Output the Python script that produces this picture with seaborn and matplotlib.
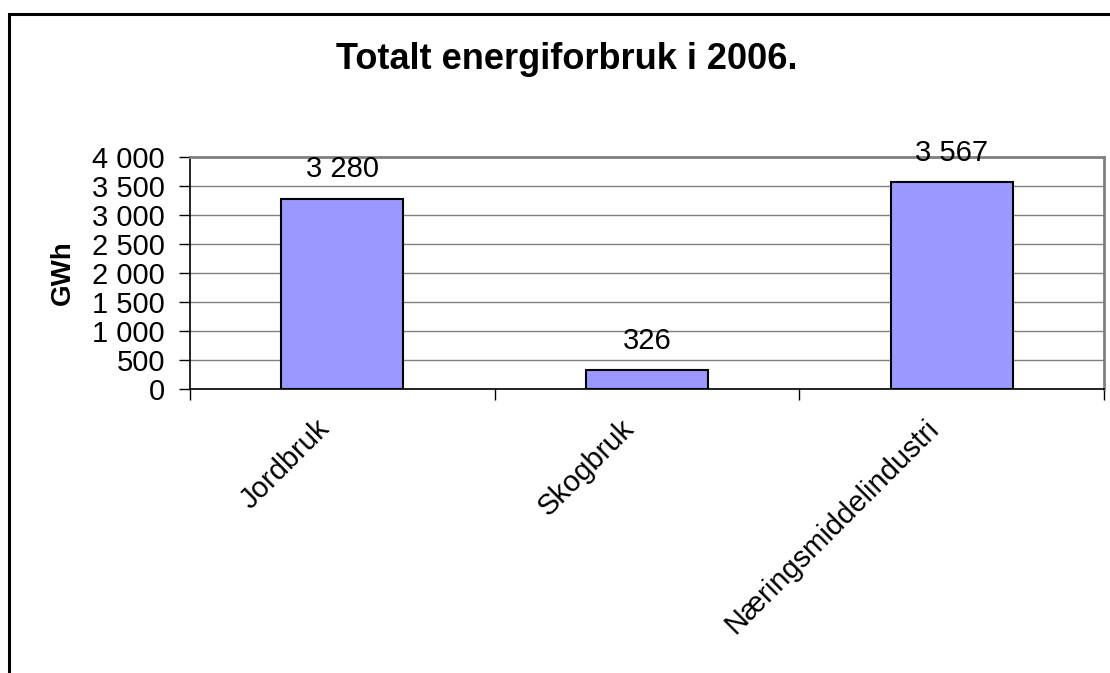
import matplotlib
matplotlib.use('Agg')
import matplotlib.pyplot as plt
from matplotlib.patches import Rectangle
from matplotlib.transforms import ScaledTranslation
import seaborn as sns


# Energy use per sector, 2006 (GWh)
CATEGORIES = ['Jordbruk', 'Skogbruk', 'Næringsmiddelindustri']
GWH = [3280, 326, 3567]
Y_TICKS = [0, 500, 1000, 1500, 2000, 2500, 3000, 3500, 4000]
TITLE = 'Totalt energiforbruk i 2006.'
Y_LABEL = 'GWh'


def fmt(v):
    return f'{v:,.0f}'.replace(',', ' ')


def main():
    sns.set_theme(style='white')
    plt.rcParams['font.family'] = ['Liberation Sans', 'DejaVu Sans']
    plt.rcParams.update({
        'text.color': 'black',
        'axes.labelcolor': 'black',
        'xtick.color': 'black',
        'ytick.color': 'black',
    })

    W, H = 1110, 673
    fig = plt.figure(figsize=(W / 100, H / 100), dpi=100)
    ax = fig.add_axes([190 / W, 1 - 389 / H, 914 / W, 232 / H])

    sns.barplot(
        x=CATEGORIES,
        y=GWH,
        color='#9999FF',
        saturation=1,
        edgecolor='black',
        linewidth=1.5,
        width=0.4,
        ax=ax,
    )

    ax.set_xlim(-0.5, 2.5)
    ax.set_ylim(0, 4000)
    ax.set_yticks(Y_TICKS)
    ax.set_yticklabels([fmt(v) for v in Y_TICKS], fontsize=21)
    ax.yaxis.grid(True, color='#808080', linewidth=1)
    ax.set_axisbelow(True)

    ax.set_xticks(range(len(CATEGORIES)))
    ax.set_xticklabels(CATEGORIES, rotation=45, ha='right',
                       rotation_mode='anchor', fontsize=21)
    ax.set_xticks([-0.5, 0.5, 1.5, 2.5], minor=True)
    ax.tick_params(axis='x', which='major', length=0, pad=14)
    ax.tick_params(axis='x', which='minor', length=8, width=1,
                   color='black', direction='out', bottom=True)
    ax.tick_params(axis='y', length=8, width=1, color='black',
                   direction='out', left=True, pad=10)
    # nudge the rotated labels so their ends sit left of the category centre
    shift = ScaledTranslation(-27 / 100, -6 / 100, fig.dpi_scale_trans)
    for lab in ax.get_xticklabels():
        lab.set_transform(lab.get_transform() + shift)

    for side in ['left', 'bottom']:
        ax.spines[side].set_color('black')
        ax.spines[side].set_linewidth(1.2)
    for side in ['top', 'right']:
        ax.spines[side].set_color('#808080')
        ax.spines[side].set_linewidth(2)

    ax.set_ylabel(Y_LABEL, fontsize=20, fontweight='bold')
    ax.yaxis.set_label_coords(-0.125, 0.5)
    ax.set_xlabel('')

    ax.bar_label(ax.containers[0], labels=[fmt(v) for v in GWH],
                 padding=11, fontsize=21)

    fig.text(567 / W, 1 - 69 / H, TITLE, ha='center', va='baseline',
             fontsize=26, fontweight='bold')

    fig.add_artist(Rectangle((9 / W, -0.2), 1.2, 1.2 - 14 / H,
                             transform=fig.transFigure, fill=False,
                             edgecolor='black', linewidth=2.2))

    fig.savefig('out.png', dpi=100)


if __name__ == '__main__':
    main()
